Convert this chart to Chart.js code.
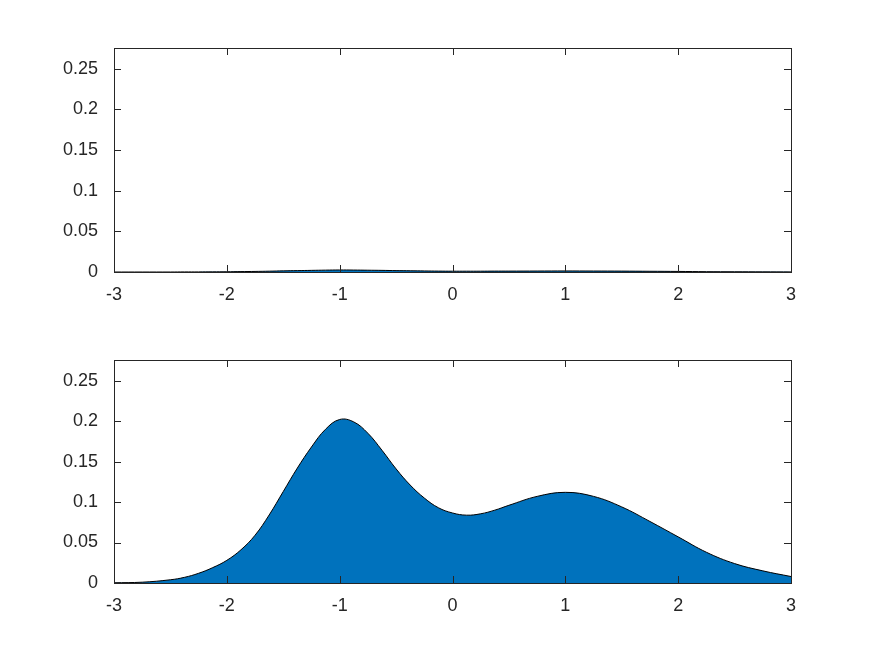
<!DOCTYPE html>
<html lang="en">
<head>
  <meta charset="UTF-8">
  <title>Density plots</title>
  <script src="https://cdn.jsdelivr.net/npm/chart.js"></script>
  <style>
    body {
      margin: 0;
      background-color: white;
      font-family: 'Liberation Sans', Arial, sans-serif;
    }
    .panel {
      position: absolute;
      left: 0;
      width: 875px;
      height: 328px;
    }
  </style>
</head>
<body>
  <div class="panel" style="top: 0px;"><canvas id="topChart"></canvas></div>
  <div class="panel" style="top: 328px;"><canvas id="bottomChart"></canvas></div>

  <script>
    // x positions of the samples
    const xValues = [-3, -2.75, -2.5, -2.375, -2.25, -2.125, -2, -1.875, -1.75, -1.625, -1.5, -1.375, -1.25, -1.125, -1,
      -0.875, -0.75, -0.625, -0.5, -0.375, -0.25, -0.125, 0, 0.125, 0.25, 0.375, 0.5, 0.75, 1,
      1.25, 1.5, 1.75, 2, 2.25, 2.5, 2.75, 3];
    // lower panel density
    const bottomValues = [0.0003, 0.001, 0.004, 0.007, 0.012, 0.019, 0.028, 0.041, 0.059, 0.084, 0.113, 0.142, 0.168, 0.190, 0.202,
      0.199, 0.185, 0.164, 0.141, 0.121, 0.105, 0.093, 0.0865, 0.0838, 0.0855, 0.090, 0.096, 0.107, 0.112,
      0.107, 0.094, 0.076, 0.057, 0.038, 0.024, 0.015, 0.008];
    // upper panel density (almost flat)
    const topValues = [0, 0, 0, 0.0001, 0.0001, 0.0002, 0.0003, 0.0005, 0.0007, 0.001, 0.0014, 0.0017, 0.002, 0.0023, 0.0025,
      0.0024, 0.0022, 0.002, 0.0017, 0.0015, 0.0013, 0.0011, 0.001, 0.001, 0.001, 0.0011, 0.0011, 0.0012, 0.0013,
      0.0012, 0.0011, 0.0009, 0.0007, 0.0004, 0.0003, 0.0002, 0.0001];
    const xTicks = [-3, -2, -1, 0, 1, 2, 3];
    const yTicks = [0, 0.05, 0.1, 0.15, 0.2, 0.25];

    const axisColor = '#262626';
    const tickLen = 7;

    // box around the axes with inward ticks on all four sides
    const boxPlugin = {
      id: 'box',
      afterDraw(chart) {
        const { ctx, chartArea: a, scales } = chart;
        ctx.save();
        ctx.strokeStyle = axisColor;
        ctx.lineWidth = 1;
        ctx.beginPath();
        xTicks.forEach(v => {
          const px = Math.round(scales.x.getPixelForValue(v)) + 0.5;
          ctx.moveTo(px, a.bottom); ctx.lineTo(px, a.bottom - tickLen);
          ctx.moveTo(px, a.top); ctx.lineTo(px, a.top + tickLen);
        });
        yTicks.forEach(v => {
          const py = Math.round(scales.y.getPixelForValue(v)) + 0.5;
          ctx.moveTo(a.left, py); ctx.lineTo(a.left + tickLen, py);
          ctx.moveTo(a.right, py); ctx.lineTo(a.right - tickLen, py);
        });
        ctx.stroke();
        ctx.strokeRect(Math.round(a.left) + 0.5, Math.round(a.top) + 0.5,
          Math.round(a.right - a.left), Math.round(a.bottom - a.top));
        ctx.restore();
      }
    };

    function makeChart(id, values, padTop, xAxisHeight) {
      const points = xValues.map((x, i) => ({ x: x, y: values[i] }));
      return new Chart(document.getElementById(id), {
        type: 'line',
        data: {
          datasets: [{
            data: points,
            borderColor: '#000000',
            borderWidth: 1,
            backgroundColor: '#0072BD',
            fill: 'origin',
            pointRadius: 0,
            tension: 0.4
          }]
        },
        options: {
          responsive: true,
          maintainAspectRatio: false,
          animation: false,
          layout: { padding: { top: padTop, right: 84, left: 0, bottom: 0 } },
          plugins: { legend: { display: false }, tooltip: { enabled: false } },
          scales: {
            x: {
              type: 'linear',
              min: -3,
              max: 3,
              grid: { display: false },
              border: { display: false },
              afterFit(scale) { scale.height = xAxisHeight; },
              afterBuildTicks(scale) { scale.ticks = xTicks.map(v => ({ value: v })); },
              ticks: {
                autoSkip: false,
                maxRotation: 0,
                padding: 4,
                color: axisColor,
                font: { family: "'Liberation Sans', Arial, sans-serif", size: 18 },
                callback: v => String(v)
              }
            },
            y: {
              min: 0,
              max: 0.2755,
              grid: { display: false },
              border: { display: false },
              afterFit(scale) { scale.width = 114; },
              afterBuildTicks(scale) { scale.ticks = yTicks.map(v => ({ value: v })); },
              ticks: {
                padding: 8,
                color: axisColor,
                font: { family: "'Liberation Sans', Arial, sans-serif", size: 18 },
                callback: v => String(+v.toFixed(3))
              }
            }
          }
        },
        plugins: [boxPlugin]
      });
    }

    makeChart('topChart', topValues, 48, 328 - 272);
    makeChart('bottomChart', bottomValues, 360 - 328, 328 - (583 - 328));
  </script>
</body>
</html>
